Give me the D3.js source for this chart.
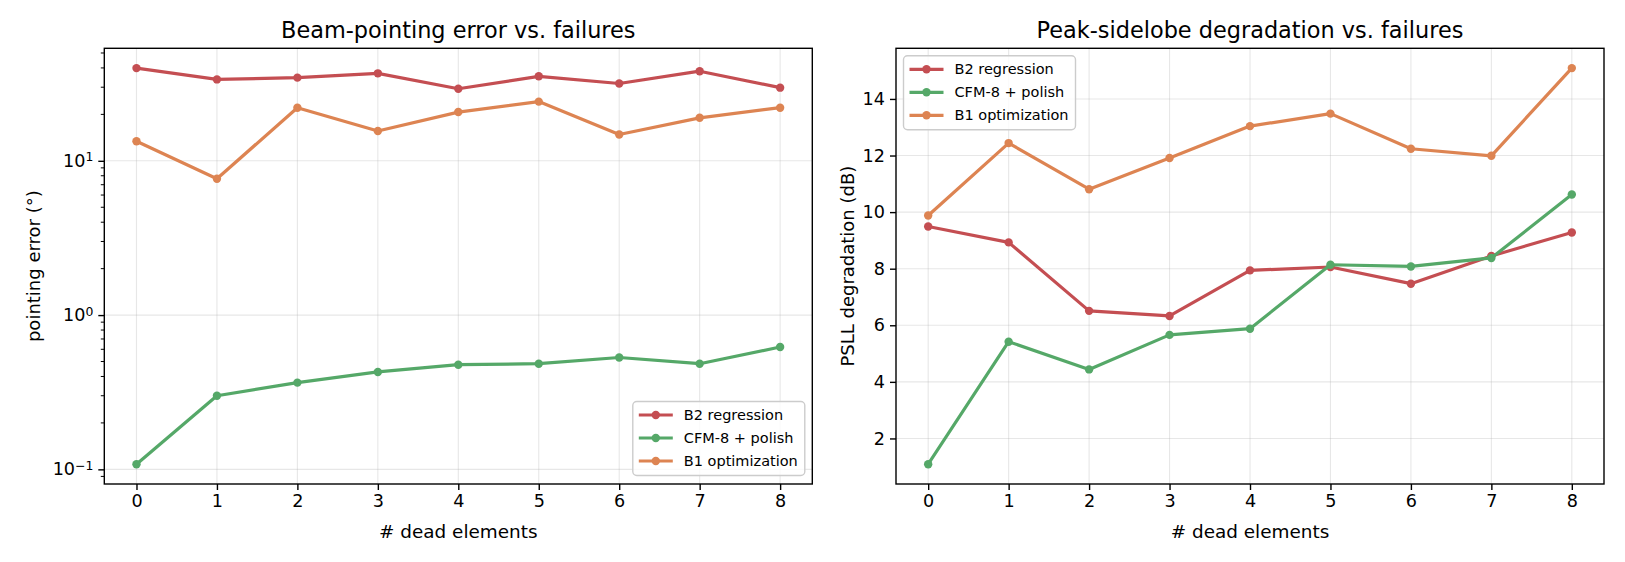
<!DOCTYPE html>
<html>
<head>
<meta charset="utf-8">
<script src="https://cdn.jsdelivr.net/npm/d3@7"></script>
<style>
  body { margin: 0; background: #fff; }
  svg { display: block; font-family: "DejaVu Sans", sans-serif; }
</style>
</head>
<body>
<div id="chart"></div>
<script>
// data
const deadElements = [0, 1, 2, 3, 4, 5, 6, 7, 8];
const seriesNames = ['B2 regression', 'CFM-8 + polish', 'B1 optimization'];
const seriesColors = ['#c44e52', '#55a868', '#dd8452'];

const pointingB2 = [39.9, 33.7, 34.6, 36.9, 29.3, 35.3, 31.7, 38.1, 29.8];
const pointingCFM = [0.108, 0.30, 0.365, 0.428, 0.477, 0.484, 0.531, 0.484, 0.621];
const pointingB1 = [13.4, 7.65, 22.1, 15.6, 20.7, 24.2, 14.8, 19.0, 22.1];

const psllB2 = [9.49, 8.93, 6.51, 6.33, 7.94, 8.06, 7.47, 8.45, 9.28];
const psllCFM = [1.09, 5.42, 4.44, 5.66, 5.88, 8.14, 8.08, 8.38, 10.62];
const psllB1 = [9.88, 12.44, 10.81, 11.91, 13.04, 13.48, 12.24, 11.99, 15.09];

const logMajorTicks = [0.1, 1, 10];
const psllTicks = [2, 4, 6, 8, 10, 12, 14];

const W = 1625, H = 562;
const svg = d3.select('#chart').append('svg')
    .attr('width', W)
    .attr('height', H);

function drawPanel(cfg) {
    const { box } = cfg;
    const g = svg.append('g');

    const x = d3.scaleLinear()
        .domain([-0.4, 8.4])
        .range([box.left, box.right]);

    const allVals = cfg.series.flat();
    let y;
    if (cfg.log) {
        const lo = Math.log10(d3.min(allVals)), hi = Math.log10(d3.max(allVals));
        const pad = (hi - lo) * 0.05;
        y = d3.scaleLog().domain([10 ** (lo - pad), 10 ** (hi + pad)]).range([box.bottom, box.top]);
    } else {
        const lo = d3.min(allVals), hi = d3.max(allVals);
        const pad = (hi - lo) * 0.05;
        y = d3.scaleLinear().domain([lo - pad, hi + pad]).range([box.bottom, box.top]);
    }

    // grid
    g.append('g').selectAll('line').data(deadElements).join('line')
        .attr('x1', d => x(d)).attr('x2', d => x(d))
        .attr('y1', box.top).attr('y2', box.bottom)
        .attr('stroke', '#b0b0b0').attr('stroke-opacity', 0.3).attr('stroke-width', 1.1);
    g.append('g').selectAll('line').data(cfg.yTicks).join('line')
        .attr('x1', box.left).attr('x2', box.right)
        .attr('y1', d => y(d)).attr('y2', d => y(d))
        .attr('stroke', '#b0b0b0').attr('stroke-opacity', 0.3).attr('stroke-width', 1.1);

    // x axis
    const xAxis = d3.axisBottom(x).tickValues(deadElements).tickSize(6).tickPadding(5)
        .tickFormat(d3.format('d'));
    const xg = g.append('g').attr('transform', `translate(0,${box.bottom})`).call(xAxis);
    xg.select('.domain').remove();
    xg.selectAll('.tick line').attr('stroke', '#000').attr('stroke-width', 1.4);
    xg.selectAll('.tick text').attr('font-size', 17.6).attr('fill', '#000')
        .attr('font-family', '"DejaVu Sans", sans-serif');

    // y axis
    const yAxis = d3.axisLeft(y).tickValues(cfg.yTicks).tickSize(6).tickPadding(5);
    if (!cfg.log) yAxis.tickFormat(d3.format('d'));
    const yg = g.append('g').attr('transform', `translate(${box.left},0)`).call(yAxis);
    yg.select('.domain').remove();
    yg.selectAll('.tick line').attr('stroke', '#000').attr('stroke-width', 1.4);
    yg.selectAll('.tick text').attr('font-size', 17.6).attr('fill', '#000')
        .attr('font-family', '"DejaVu Sans", sans-serif');

    if (cfg.log) {
        yg.selectAll('.tick text').text(null).each(function (d) {
            const t = d3.select(this);
            t.append('tspan').text('10');
            t.append('tspan').attr('font-size', 12.4).attr('dy', '-0.45em')
                .text(String(Math.round(Math.log10(d))).replace('-', '\u2212'));
        });
        // minor ticks
        const [d0, d1] = y.domain();
        const minor = [];
        for (let e = -2; e <= 2; e++) {
            for (let m = 2; m <= 9; m++) {
                const v = m * 10 ** e;
                if (v >= d0 && v <= d1) minor.push(v);
            }
        }
        g.append('g').selectAll('line').data(minor).join('line')
            .attr('x1', box.left - 3.5).attr('x2', box.left)
            .attr('y1', d => y(d)).attr('y2', d => y(d))
            .attr('stroke', '#000').attr('stroke-width', 1);
    }

    // lines and markers
    const line = d3.line().x((d, i) => x(deadElements[i])).y(d => y(d));
    cfg.series.forEach((vals, k) => {
        g.append('path')
            .datum(vals)
            .attr('d', line)
            .attr('fill', 'none')
            .attr('stroke', seriesColors[k])
            .attr('stroke-width', 3.2)
            .attr('stroke-linejoin', 'round');
        g.append('g').selectAll('circle').data(vals).join('circle')
            .attr('cx', (d, i) => x(deadElements[i]))
            .attr('cy', d => y(d))
            .attr('r', 4.2)
            .attr('fill', seriesColors[k]);
    });

    // frame
    g.append('rect')
        .attr('x', box.left).attr('y', box.top)
        .attr('width', box.right - box.left).attr('height', box.bottom - box.top)
        .attr('fill', 'none').attr('stroke', '#000').attr('stroke-width', 1.4);

    // title and labels
    const cx = (box.left + box.right) / 2;
    g.append('text')
        .attr('x', cx).attr('y', 37.5)
        .attr('text-anchor', 'middle')
        .attr('font-size', 22.4)
        .text(cfg.title);
    g.append('text')
        .attr('x', cx).attr('y', 537.5)
        .attr('text-anchor', 'middle')
        .attr('font-size', 18.4)
        .text('# dead elements');
    g.append('text')
        .attr('transform', `translate(${cfg.yLabelX},${(box.top + box.bottom) / 2}) rotate(-90)`)
        .attr('text-anchor', 'middle')
        .attr('dominant-baseline', 'central')
        .attr('font-size', 18)
        .text(cfg.yLabel);

    // legend
    const lg = g.append('g');
    const frame = lg.append('rect');
    const rows = lg.selectAll('g').data(seriesNames).join('g')
        .attr('transform', (d, i) => `translate(0,${13.5 + i * 23})`);
    rows.append('line')
        .attr('x1', 6).attr('x2', 40).attr('y1', 0).attr('y2', 0)
        .attr('stroke', (d, i) => seriesColors[i]).attr('stroke-width', 3.2);
    rows.append('circle')
        .attr('cx', 23).attr('cy', 0).attr('r', 4.2)
        .attr('fill', (d, i) => seriesColors[i]);
    rows.append('text')
        .attr('x', 51).attr('y', 0)
        .attr('dominant-baseline', 'central')
        .attr('font-size', 14.5)
        .text(d => d);
    let tw = 0;
    rows.selectAll('text').each(function () { tw = Math.max(tw, this.getComputedTextLength()); });
    const bw = 51 + tw + 7, bh = 74;
    frame.attr('width', bw).attr('height', bh).attr('rx', 4)
        .attr('fill', '#fff').attr('fill-opacity', 0.8)
        .attr('stroke', '#cccccc').attr('stroke-width', 1.4);
    const lx = cfg.legend === 'lower right' ? box.right - 7.5 - bw : box.left + 7.5;
    const ly = cfg.legend === 'lower right' ? box.bottom - 8.5 - bh : box.top + 7.5;
    lg.attr('transform', `translate(${lx},${ly})`);
}

drawPanel({
    box: { left: 104.3, right: 812.3, top: 48.3, bottom: 484 },
    log: true,
    series: [pointingB2, pointingCFM, pointingB1],
    yTicks: logMajorTicks,
    title: 'Beam-pointing error vs. failures',
    yLabel: 'pointing error (°)',
    yLabelX: 33,
    legend: 'lower right'
});

drawPanel({
    box: { left: 896, right: 1604, top: 48.3, bottom: 484 },
    log: false,
    series: [psllB2, psllCFM, psllB1],
    yTicks: psllTicks,
    title: 'Peak-sidelobe degradation vs. failures',
    yLabel: 'PSLL degradation (dB)',
    yLabelX: 847,
    legend: 'upper left'
});
</script>
</body>
</html>
